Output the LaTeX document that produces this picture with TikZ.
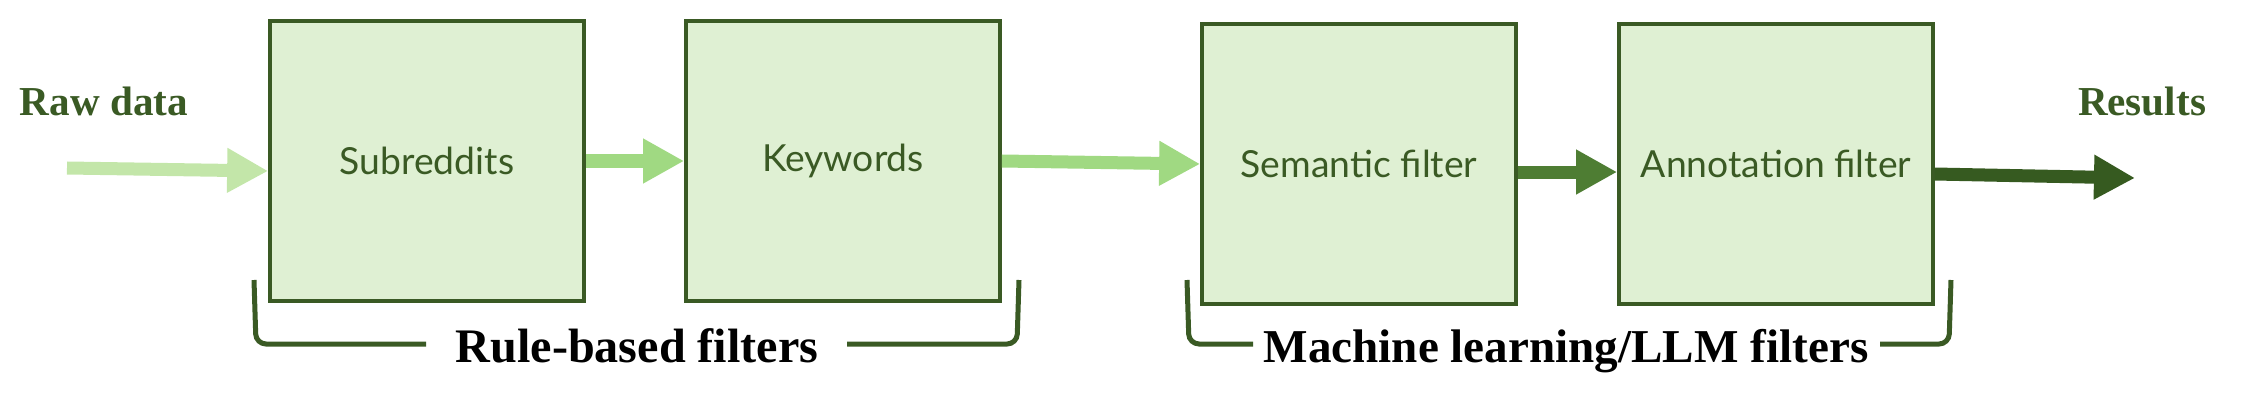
\documentclass[tikz,border=0pt]{standalone}
\usepackage{fontspec}
\setmainfont{Liberation Serif}
\newfontfamily\boxfont{Lato}
\usetikzlibrary{arrows.meta}
\definecolor{boxfill}{HTML}{DFF0D3}
\definecolor{boxline}{HTML}{3A5A24}
\definecolor{flowA}{HTML}{C3E6A9}
\definecolor{flowB}{HTML}{A0D982}
\definecolor{flowC}{HTML}{4E7D33}
\definecolor{flowD}{HTML}{365A20}
\tikzset{
  stage/.style={draw=boxline, line width=0.035cm, fill=boxfill, minimum width=3.14cm,
    minimum height=2.8cm, inner sep=0pt, text=boxline, font=\boxfont\fontsize{10.6}{12}\selectfont},
  flow/.style={line width=0.13cm, -{Triangle[length=0.41cm,width=0.42cm]}},
  ends/.style={anchor=base, text=boxline, font=\bfseries\fontsize{11.7}{14}\selectfont},
  group/.style={anchor=base, font=\bfseries\fontsize{13.7}{16}\selectfont},
  brace/.style={draw=boxline, line width=0.05cm, rounded corners=0.1cm},
}

\begin{document}
\begin{tikzpicture}[x=0.01cm,y=-0.01cm]
    \useasboundingbox (0,0) rectangle (2250,412);
    \node[ends] (raw) at (104,115) {Raw data};
    \node[ends] (res) at (2142,115) {Results};
    \node[stage] (sub) at (427,161) {Subreddits};
    \node[stage] (key) at (843,161) {Keywords};
    \node[stage] (sem) at (1359,164) {Semantic filter};
    \node[stage] (ann) at (1776,164) {Annotation filter};
    \node[group] (rule) at (637,362) {Rule-based filters};
    \node[group, font=\bfseries\fontsize{13.4}{16}\selectfont] (ml) at (1566,362) {Machine learning/LLM filters};
    \coordinate (in) at (67,168);
    \coordinate (out) at (2135,178);
    \draw[flow, flowA] (in) -- ([yshift=-0.1cm]sub.west);
    \draw[flow, flowB] (sub.east) -- (key.west);
    \draw[flow, flowB] (key.east) -- (sem.west);
    \draw[flow, flowC] ([yshift=-0.08cm]sem.east) -- ([yshift=-0.08cm]ann.west);
    \draw[flow, flowD] ([yshift=-0.1cm]ann.east) -- (out);
    \draw[brace] (254,280) -- (256,344) -- (426,344);
    \draw[brace] (847,344) -- (1017,344) -- (1019,280);
    \draw[brace] (1187,280) -- (1189,344) -- (1253,344);
    \draw[brace] (1880,344) -- (1949,344) -- (1951,280);
\end{tikzpicture}
\end{document}
